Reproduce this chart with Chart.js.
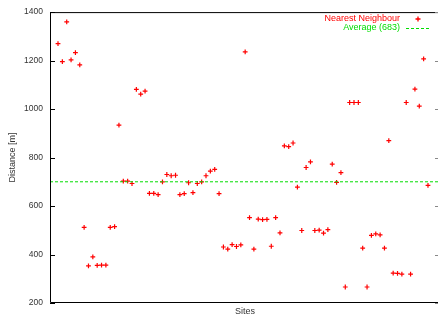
<!DOCTYPE html>
<html>
<head>
<meta charset="utf-8">
<script src="https://cdn.jsdelivr.net/npm/chart.js@4"></script>
<style>
  html, body { margin: 0; padding: 0; background: #fff; overflow: hidden; }
  canvas { display: block; }
</style>
</head>
<body>
<canvas id="chart" width="442" height="320"></canvas>
<script>
// nearest neighbour distance per site (m), in site order
const distances = [
  1270, 1196, 1360, 1203, 1233, 1182, 512, 353, 390, 355,
  356, 356, 512, 515, 934, 703, 703, 693, 1081, 1062,
  1074, 652, 652, 647, 700, 730, 725, 727, 647, 651,
  696, 655, 693, 700, 725, 744, 751, 651, 431, 422,
  441, 433, 440, 1236, 552, 422, 546, 544, 545, 434,
  552, 489, 848, 845, 860, 678, 499, 759, 782, 499,
  501, 488, 503, 773, 698, 738, 266, 1027, 1027, 1027,
  426, 266, 479, 485, 481, 426, 870, 323, 322, 319,
  1027, 319, 1082, 1012, 1207, 685
];
const averageLine = 700;
const averageLabel = 'Average (683)';
const pointsLabel = 'Nearest Neighbour';
const yTicks = [200, 400, 600, 800, 1000, 1200, 1400];

const X_MIN = -1.84, X_MAX = 87.76;
const RED = '#ff0000';
const GREEN = '#00dd00';
const FONT = 'Liberation Sans, Arial, Helvetica, sans-serif';

const frame = {
  id: 'frame',
  afterDraw(chart) {
    const { ctx, chartArea: { top, bottom, left, right }, scales: { y } } = chart;
    ctx.save();
    ctx.strokeStyle = '#000';
    ctx.lineWidth = 1;
    ctx.beginPath();
    ctx.moveTo(left + 0.5, top + 0.5);
    ctx.lineTo(right - 0.5, top + 0.5);
    ctx.lineTo(right - 0.5, bottom - 0.5);
    ctx.lineTo(left + 0.5, bottom - 0.5);
    ctx.closePath();
    ctx.stroke();
    // inward tick marks, left and mirrored right
    yTicks.forEach(v => {
      const py = Math.round(y.getPixelForValue(v)) + 0.5;
      ctx.strokeStyle = '#000';
      ctx.beginPath();
      ctx.moveTo(left, py);
      ctx.lineTo(left + 5, py);
      ctx.stroke();
      ctx.strokeStyle = '#888';
      ctx.beginPath();
      ctx.moveTo(right - 5, py);
      ctx.lineTo(right, py);
      ctx.stroke();
    });

    // legend, gnuplot style (text right aligned, sample on the right)
    ctx.font = '9px ' + FONT;
    ctx.textAlign = 'right';
    ctx.textBaseline = 'middle';
    ctx.fillStyle = RED;
    ctx.fillText(pointsLabel, 400, 19);
    ctx.strokeStyle = RED;
    ctx.lineWidth = 1.3;
    ctx.beginPath();
    ctx.moveTo(415.5, 19); ctx.lineTo(420.5, 19);
    ctx.moveTo(418, 16.5); ctx.lineTo(418, 21.5);
    ctx.stroke();
    ctx.fillStyle = GREEN;
    ctx.fillText(averageLabel, 400, 28);
    ctx.strokeStyle = GREEN;
    ctx.lineWidth = 1;
    ctx.setLineDash([3, 2]);
    ctx.beginPath();
    ctx.moveTo(406, 28.5); ctx.lineTo(431, 28.5);
    ctx.stroke();
    ctx.restore();
  }
};

const data = {
  datasets: [
    {
      type: 'line',
      label: averageLabel,
      data: [{ x: X_MIN, y: averageLine }, { x: X_MAX, y: averageLine }],
      borderColor: GREEN,
      borderWidth: 1,
      borderDash: [3, 2],
      pointRadius: 0,
      fill: false,
    },
    {
      type: 'scatter',
      label: pointsLabel,
      data: distances.map((d, i) => ({ x: i, y: d })),
      pointStyle: 'cross',
      pointRadius: 2.4,
      borderColor: RED,
      backgroundColor: RED,
      pointBorderWidth: 1.2,
    },
  ],
};

const config = {
  type: 'scatter',
  data,
  options: {
    responsive: false,
    animation: false,
    layout: { autoPadding: false, padding: { top: 11, right: 2, left: 0, bottom: 0 } },
    plugins: {
      legend: { display: false },
      tooltip: { enabled: false },
    },
    scales: {
      x: {
        type: 'linear',
        min: X_MIN,
        max: X_MAX,
        grid: { display: false },
        border: { display: false },
        ticks: { display: false },
        title: {
          display: true,
          text: 'Sites',
          color: '#333',
          font: { family: FONT, size: 9 },
          padding: { top: 0, bottom: 2.6 },
        },
        afterFit(scale) { scale.height = 17; },
      },
      y: {
        min: 200,
        max: 1400,
        grid: { display: false, drawTicks: false },
        border: { display: false },
        ticks: {
          stepSize: 200,
          padding: 7,
          color: '#333',
          font: { family: FONT, size: 8.5 },
          callback: v => String(v),
        },
        title: {
          display: true,
          text: 'Distance [m]',
          color: '#333',
          font: { family: FONT, size: 9 },
          padding: { top: 7.6, bottom: 0 },
        },
        afterFit(scale) { scale.width = 50; },
      },
    },
  },
  plugins: [frame],
};

const ctx = document.getElementById('chart');
const myChart = new Chart(ctx, config);
</script>
</body>
</html>
